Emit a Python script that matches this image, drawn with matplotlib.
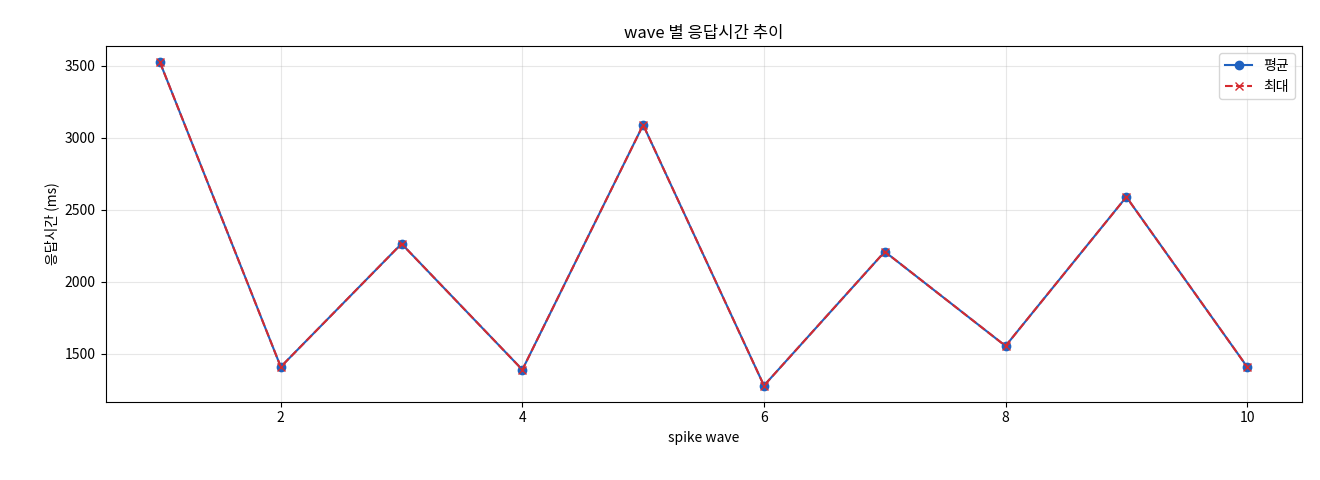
import matplotlib
matplotlib.use('Agg')
import matplotlib.pyplot as plt

plt.rcParams['font.family'] = ['Noto Sans CJK KR', 'DejaVu Sans']
plt.rcParams['axes.unicode_minus'] = False

waves = [1, 2, 3, 4, 5, 6, 7, 8, 9, 10]
avg_ms = [3525, 1410, 2265, 1390, 3090, 1280, 2210, 1555, 2590, 1410]
max_ms = [3525, 1410, 2265, 1390, 3090, 1280, 2210, 1555, 2590, 1410]

fig, ax = plt.subplots(figsize=(13.2, 4.8), dpi=100)
ax.plot(waves, avg_ms, marker='o', color='#1f62c0', label='평균', markersize=6)
ax.plot(waves, max_ms, marker='x', linestyle='--', color='#d62a2f', label='최대', markersize=6)
ax.set_title('wave 별 응답시간 추이')
ax.set_xlabel('spike wave')
ax.set_ylabel('응답시간 (ms)')
ax.grid(True, alpha=0.3)
ax.legend(loc='upper right')
plt.subplots_adjust(left=0.08, right=0.986, top=0.904, bottom=0.163)
plt.savefig('out.png', dpi=100, facecolor='white')
